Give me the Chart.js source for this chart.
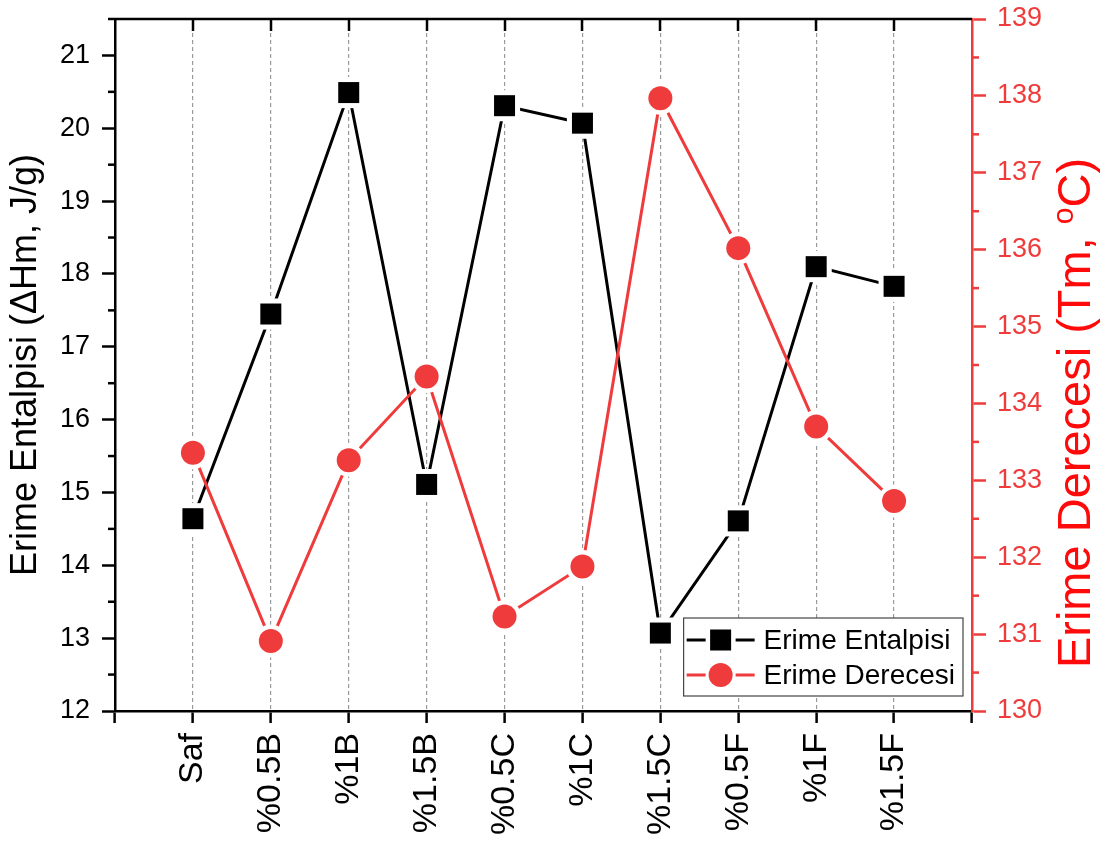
<!DOCTYPE html>
<html>
<head>
<meta charset="utf-8">
<script src="https://cdn.jsdelivr.net/npm/chart.js@4/dist/chart.umd.min.js"></script>
<style>
  html, body { margin: 0; padding: 0; background: #ffffff; }
  #wrap { width: 1101px; height: 841px; }
</style>
</head>
<body>
<div id="wrap"><canvas id="c"></canvas></div>
<script>
// Sample names along the x axis
const categories = ['Saf', '%0.5B', '%1B', '%1.5B', '%0.5C', '%1C', '%1.5C', '%0.5F', '%1F', '%1.5F'];
// Melting enthalpy, ΔHm (J/g) – left axis
const enthalpy = [14.64, 17.45, 20.49, 15.11, 20.31, 20.07, 13.07, 14.61, 18.10, 17.83];
// Melting temperature, Tm (°C) – right axis
const meltTemp = [133.36, 130.91, 133.26, 134.35, 131.23, 131.88, 137.97, 136.02, 133.70, 132.73];
// Axis ranges and steps
const leftAxis = [12, 21.5, 1];
const rightAxis = [130, 139, 1];
const seriesNames = ['Erime Entalpisi', 'Erime Derecesi'];

const FONT = "'Liberation Sans', Arial, Helvetica, sans-serif";
const BLACK = '#000000';
const RED = '#ef3b3b';
const TITLE_RED = '#ff0a0a';

const pts = arr => arr.map((v, i) => ({ x: i + 1, y: v }));

// keep tick-label overhang from shrinking the plot area
function fixSide(size, horizontal) {
  return s => {
    if (horizontal) s.height = size; else s.width = size;
    s.paddingTop = 0; s.paddingBottom = 0; s.paddingLeft = 0; s.paddingRight = 0;
  };
}

// Frame, minor ticks, axis titles and legend drawn on top of the scales
const decorPlugin = {
  id: 'decor',
  afterDraw(chart) {
    const { ctx, chartArea: a, scales } = chart;
    ctx.save();
    // top frame with inward ticks at each sample
    ctx.strokeStyle = BLACK;
    ctx.lineWidth = 2.5;
    ctx.beginPath();
    ctx.moveTo(a.left, a.top);
    ctx.lineTo(a.right, a.top);
    ctx.stroke();
    for (let i = 1; i <= categories.length; i++) {
      const x = Math.round(scales.x.getPixelForValue(i));
      ctx.beginPath();
      ctx.moveTo(x, a.top);
      ctx.lineTo(x, a.top + 12);
      ctx.stroke();
    }
    // minor ticks on the left axis
    for (let v = leftAxis[0] + leftAxis[2] / 2; v <= leftAxis[1] + 1e-9; v += leftAxis[2]) {
      const y = scales.y.getPixelForValue(v);
      ctx.beginPath();
      ctx.moveTo(a.left - 7, y);
      ctx.lineTo(a.left, y);
      ctx.stroke();
    }
    // minor ticks on the right axis
    ctx.strokeStyle = RED;
    for (let v = rightAxis[0] + rightAxis[2] / 2; v <= rightAxis[1] + 1e-9; v += rightAxis[2]) {
      const y = scales.y1.getPixelForValue(v);
      ctx.beginPath();
      ctx.moveTo(a.right, y);
      ctx.lineTo(a.right + 7, y);
      ctx.stroke();
    }

    // left axis title
    ctx.save();
    ctx.translate(a.left - 89, (a.top + a.bottom) / 2);
    ctx.rotate(-Math.PI / 2);
    ctx.font = '36px ' + FONT;
    ctx.fillStyle = BLACK;
    ctx.textAlign = 'center';
    ctx.textBaseline = 'middle';
    ctx.fillText('Erime Entalpisi (ΔHm, J/g)', 0, 0);
    ctx.restore();

    // right axis title with superscript degree mark
    ctx.save();
    ctx.translate(a.right + 105, (a.top + a.bottom) / 2 + 48);
    ctx.rotate(-Math.PI / 2);
    ctx.fillStyle = TITLE_RED;
    ctx.textBaseline = 'middle';
    const big = '47px ' + FONT, small = '30px ' + FONT;
    const parts = [['Erime Derecesi (Tm, ', big, 0], ['o', small, -12], ['C)', big, 0]];
    let total = 0;
    parts.forEach(p => { ctx.font = p[1]; total += ctx.measureText(p[0]).width; });
    let cx = -total / 2;
    ctx.textAlign = 'left';
    parts.forEach(p => {
      ctx.font = p[1];
      ctx.fillText(p[0], cx, p[2]);
      cx += ctx.measureText(p[0]).width;
    });
    ctx.restore();

    // legend box in the lower right of the plot
    ctx.font = '28px ' + FONT;
    const textW = Math.max(...seriesNames.map(s => ctx.measureText(s).width));
    const boxRight = a.right - 9, boxBottom = a.bottom - 15;
    const boxW = 3 + 68 + 9 + textW + 8, boxH = 78;
    const boxLeft = boxRight - boxW, boxTop = boxBottom - boxH;
    ctx.fillStyle = '#ffffff';
    ctx.fillRect(boxLeft, boxTop, boxW, boxH);
    ctx.strokeStyle = '#444444';
    ctx.lineWidth = 1.2;
    ctx.strokeRect(boxLeft, boxTop, boxW, boxH);
    const styles = [{ c: BLACK, shape: 'rect' }, { c: RED, shape: 'circle' }];
    seriesNames.forEach((name, i) => {
      const y = boxTop + 22 + i * 35;
      const x0 = boxLeft + 3, xm = x0 + 34, x1 = x0 + 68;
      ctx.strokeStyle = styles[i].c;
      ctx.lineWidth = 3;
      ctx.beginPath();
      ctx.moveTo(x0, y); ctx.lineTo(xm - 15, y);
      ctx.moveTo(xm + 15, y); ctx.lineTo(x1, y);
      ctx.stroke();
      ctx.fillStyle = styles[i].c;
      if (styles[i].shape === 'rect') {
        ctx.fillRect(xm - 10.5, y - 10.5, 21, 21);
      } else {
        ctx.beginPath(); ctx.arc(xm, y, 12, 0, Math.PI * 2); ctx.fill();
      }
      ctx.fillStyle = BLACK;
      ctx.textAlign = 'left';
      ctx.textBaseline = 'middle';
      ctx.fillText(name, x1 + 9, y + 1);
    });
    ctx.restore();
  }
};

new Chart(document.getElementById('c'), {
  type: 'line',
  data: {
    datasets: [
      { // enthalpy markers
        data: pts(enthalpy), yAxisID: 'y', showLine: false, order: 2,
        pointStyle: 'rect', pointRadius: 14.85, pointBackgroundColor: BLACK,
        pointBorderWidth: 0, borderColor: BLACK
      },
      { // enthalpy line with white gaps around markers
        data: pts(enthalpy), yAxisID: 'y', order: 3,
        borderColor: BLACK, borderWidth: 3, tension: 0,
        pointStyle: 'rect', pointRadius: 22, pointBackgroundColor: '#ffffff', pointBorderWidth: 0
      },
      { // temperature markers
        data: pts(meltTemp), yAxisID: 'y1', showLine: false, order: 0,
        pointStyle: 'circle', pointRadius: 12, pointBackgroundColor: RED,
        pointBorderWidth: 0, borderColor: RED
      },
      { // temperature line with white gaps around markers
        data: pts(meltTemp), yAxisID: 'y1', order: 1,
        borderColor: RED, borderWidth: 3, tension: 0,
        pointStyle: 'circle', pointRadius: 16.5, pointBackgroundColor: '#ffffff', pointBorderWidth: 0
      }
    ]
  },
  options: {
    responsive: true,
    maintainAspectRatio: false,
    animation: false,
    events: [],
    layout: { autoPadding: false, padding: { top: 19, left: 0, right: 0, bottom: 0 } },
    plugins: { legend: { display: false }, tooltip: { enabled: false } },
    scales: {
      x: {
        type: 'linear', min: 0, max: categories.length + 1,
        afterFit: fixSide(130, true),
        border: { color: BLACK, width: 2.5, dash: [4, 3] },
        grid: {
          drawOnChartArea: true,
          color: c => (c.tick && c.tick.value >= 1 && c.tick.value <= categories.length) ? '#9a9a9a' : 'rgba(0,0,0,0)',
          lineWidth: 1.2,
          tickColor: BLACK, tickLength: 12, tickWidth: 2.5
        },
        ticks: {
          stepSize: 1, autoSkip: false, minRotation: 90, maxRotation: 90, padding: 10,
          color: BLACK, font: { family: FONT, size: 34 },
          callback: v => (v >= 1 && v <= categories.length) ? categories[v - 1] : ''
        }
      },
      y: {
        type: 'linear', position: 'left', min: leftAxis[0], max: leftAxis[1],
        afterFit: fixSide(115, false),
        border: { color: BLACK, width: 2.5 },
        grid: { drawOnChartArea: false, tickColor: BLACK, tickLength: 13, tickWidth: 2.5 },
        ticks: {
          stepSize: leftAxis[2], includeBounds: false, padding: 12,
          color: BLACK, font: { family: FONT, size: 27 }
        }
      },
      y1: {
        type: 'linear', position: 'right', min: rightAxis[0], max: rightAxis[1],
        afterFit: fixSide(129, false),
        border: { color: RED, width: 2.5 },
        grid: { drawOnChartArea: false, tickColor: RED, tickLength: 14, tickWidth: 2.5 },
        ticks: {
          stepSize: rightAxis[2], includeBounds: false, padding: 11,
          color: RED, font: { family: FONT, size: 27 }
        }
      }
    }
  },
  plugins: [decorPlugin]
});
</script>
</body>
</html>
